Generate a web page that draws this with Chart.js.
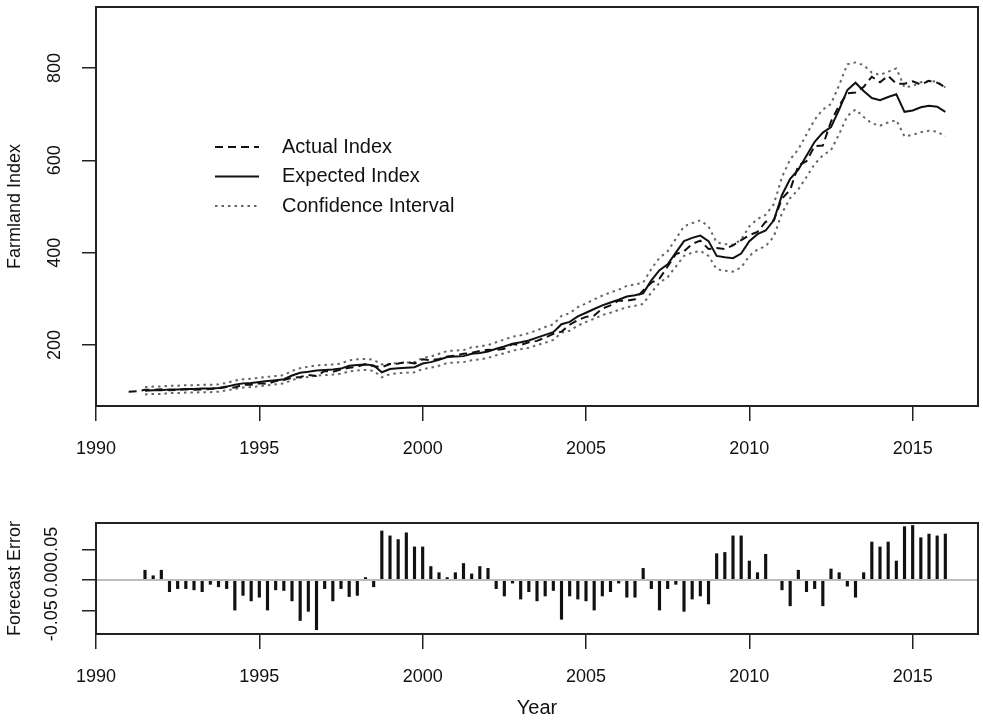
<!DOCTYPE html>
<html>
<head>
<meta charset="utf-8">
<title>Farmland Index</title>
<script src="https://cdn.jsdelivr.net/npm/chart.js@4.4.1/dist/chart.umd.min.js"></script>
<style>
  html, body { margin: 0; padding: 0; background: #fff; }
  #wrap { position: relative; width: 983px; height: 722px; }
  canvas { position: absolute; left: 0; }
  #indexChart { top: 0; }
  #errorChart { top: 470px; }
</style>
</head>
<body>
<div id="wrap">
  <canvas id="indexChart" width="983" height="470"></canvas>
  <canvas id="errorChart" width="983" height="252"></canvas>
</div>
<script>
// quarterly series, first quarter 1991
const startYear = 1991;

const actualIndex = [
    99, 100,
    103, 103, 104, 102, 103, 104, 103, 104, 105, 106,
    109, 108, 114, 114, 117, 116, 122, 124,
    129, 131, 135, 133, 144, 142, 147, 151,
    153, 159, 154, 152, 159, 160, 163, 160,
    169, 167, 170, 175, 177, 181, 183, 187,
    190, 189, 192, 202, 200, 206, 209, 216,
    224, 229, 244, 254, 261, 264, 279, 286,
    296, 296, 299, 318, 335, 344, 370, 397,
    403, 419, 426, 408, 410, 408, 416, 427,
    438, 445, 467, 470, 517, 536, 589, 598,
    631, 632, 684, 719, 745, 747, 759, 781,
    769, 783, 766, 766, 771, 764, 772, 768,
    758,
];

const expectedIndex = [
    null, null,
    101, 102, 102, 104, 104, 105, 105, 106, 106, 107,
    110, 114, 117, 118, 120, 122, 124, 126,
    134, 140, 142, 145, 146, 147, 149, 155,
    157, 158, 156, 141, 148, 150, 151, 152,
    160, 163, 168, 174, 175, 176, 181, 183,
    186, 192, 197, 203, 206, 210, 216, 222,
    228, 245, 250, 262, 270, 278, 286, 292,
    298, 305, 308, 312, 340, 362, 375, 400,
    425, 432, 437, 425, 393, 390, 388, 398,
    425, 440, 448, 470, 525, 560, 580, 610,
    640, 660, 672, 710, 752, 768, 750, 735,
    730, 737, 743, 705, 708, 715, 718, 716,
    705,
];

const upperBound = [
    null, null,
    109, 110, 110, 112, 112, 113, 113, 114, 114, 115,
    118, 123, 126, 127, 129, 131, 133, 135,
    144, 150, 153, 156, 157, 158, 160, 167,
    169, 170, 168, 158, 159, 161, 162, 163,
    172, 175, 181, 187, 188, 189, 195, 197,
    200, 206, 212, 218, 221, 226, 232, 239,
    245, 263, 269, 282, 290, 299, 307, 314,
    320, 328, 331, 335, 365, 389, 403, 430,
    457, 464, 470, 457, 422, 419, 417, 428,
    457, 473, 482, 505, 564, 602, 624, 656,
    688, 710, 722, 763, 808, 812, 806, 790,
    785, 792, 799, 758, 761, 769, 772, 770,
    758,
];

const lowerBound = [
    null, null,
    93, 94, 94, 96, 96, 97, 97, 98, 98, 99,
    102, 105, 108, 109, 111, 113, 115, 117,
    124, 129, 131, 134, 135, 136, 138, 143,
    145, 146, 144, 130, 137, 139, 140, 141,
    148, 151, 155, 161, 162, 163, 167, 169,
    172, 178, 182, 188, 191, 194, 200, 205,
    211, 227, 231, 242, 250, 257, 265, 270,
    276, 282, 285, 289, 314, 335, 347, 370,
    393, 400, 404, 393, 364, 361, 359, 368,
    393, 407, 414, 435, 486, 518, 537, 564,
    592, 611, 622, 657, 696, 710, 694, 680,
    675, 682, 687, 652, 655, 661, 664, 662,
    652,
];

const forecastError = [
    null, null,
    0.016, 0.007, 0.016, -0.019, -0.014, -0.014, -0.016, -0.019, -0.007, -0.011,
    -0.014, -0.049, -0.025, -0.034, -0.028, -0.049, -0.016, -0.017,
    -0.034, -0.066, -0.051, -0.081, -0.014, -0.034, -0.014, -0.027,
    -0.025, 0.004, -0.011, 0.080, 0.072, 0.066, 0.077, 0.054,
    0.054, 0.022, 0.012, 0.004, 0.012, 0.027, 0.010, 0.022,
    0.019, -0.014, -0.026, -0.005, -0.031, -0.019, -0.034, -0.026,
    -0.017, -0.064, -0.026, -0.031, -0.034, -0.049, -0.026, -0.019,
    -0.005, -0.028, -0.028, 0.019, -0.014, -0.049, -0.014, -0.007,
    -0.051, -0.031, -0.026, -0.039, 0.043, 0.045, 0.072, 0.072,
    0.031, 0.012, 0.042, 0.000, -0.016, -0.042, 0.016, -0.019,
    -0.014, -0.042, 0.018, 0.012, -0.010, -0.028, 0.012, 0.062,
    0.054, 0.062, 0.031, 0.087, 0.089, 0.069, 0.075, 0.072,
    0.075,
];

const yearTicks = [1990, 1995, 2000, 2005, 2010, 2015];
const indexTicks = [200, 400, 600, 800];
const errorTicks = [-0.05, 0, 0.05];

const quarters = actualIndex.map((_, i) => startYear + i * 0.25);
const toPoints = (values) => values.map((v, i) => ({ x: quarters[i], y: v }));

const family = "'Liberation Sans', Arial, Helvetica, sans-serif";
Chart.defaults.font.family = family;
Chart.defaults.color = "#111";

const ink = "#222";
const nb = "\u00a0";

// R style box round the plot region
const framePlugin = {
    id: "frame",
    afterDraw(chart) {
        const { ctx, chartArea: a } = chart;
        ctx.save();
        ctx.strokeStyle = ink;
        ctx.lineWidth = 2;
        ctx.strokeRect(a.left, a.top, a.right - a.left, a.bottom - a.top);
        ctx.restore();
    },
};

// legend inside the plot, drawn from the dataset styles
const insetLegend = {
    id: "insetLegend",
    afterDraw(chart) {
        const { ctx } = chart;
        const items = chart.data.datasets.filter((d) => d.inLegend);
        ctx.save();
        ctx.font = "20px " + family;
        ctx.textBaseline = "middle";
        ctx.fillStyle = "#111";
        items.forEach((d, i) => {
            const y = 147 + i * 29.5;
            ctx.beginPath();
            ctx.setLineDash(d.borderDash || []);
            ctx.strokeStyle = d.borderColor;
            ctx.lineWidth = d.borderWidth;
            ctx.moveTo(215, y);
            ctx.lineTo(259, y);
            ctx.stroke();
            ctx.setLineDash([]);
            ctx.fillText(d.label, 282, y);
        });
        ctx.restore();
    },
};

// grey reference line at zero, over the bars as in R's abline
const zeroLine = {
    id: "zeroLine",
    afterDatasetsDraw(chart) {
        const { ctx, chartArea: a, scales } = chart;
        const y = scales.y.getPixelForValue(0);
        ctx.save();
        ctx.strokeStyle = "#bdbdbd";
        ctx.lineWidth = 2;
        ctx.beginPath();
        ctx.moveTo(a.left, y);
        ctx.lineTo(a.right, y);
        ctx.stroke();
        ctx.restore();
    },
};

const yearAxis = (height, labelPad) => ({
    type: "linear",
    min: 1990,
    max: 2017,
    offset: false,
    afterBuildTicks: (s) => {
        s.ticks = yearTicks.map((v) => ({ value: v }));
    },
    afterFit: (s) => {
        s.height = height;
        s.paddingLeft = 0;
        s.paddingRight = 0;
    },
    grid: { offset: false, drawOnChartArea: false, tickLength: 15, color: ink, lineWidth: 1.5 },
    border: { display: false },
    ticks: {
        padding: labelPad,
        autoSkip: false,
        maxRotation: 0,
        font: { size: 18 },
        callback: (v) => String(v),
    },
});

const sideAxis = (min, max, values, labelPad, title, fmt) => ({
    min: min,
    max: max,
    afterBuildTicks: (s) => {
        s.ticks = values.map((v) => ({ value: v }));
    },
    afterFit: (s) => {
        s.width = 96;
        s.paddingTop = 0;
        s.paddingBottom = 0;
    },
    grid: { drawOnChartArea: false, tickLength: 14, color: ink, lineWidth: 1.5 },
    border: { display: false },
    ticks: {
        minRotation: 90,
        maxRotation: 90,
        crossAlign: "center",
        padding: labelPad,
        autoSkip: false,
        font: { size: 18 },
        callback: fmt,
    },
    title: {
        display: true,
        text: title,
        font: { size: 18 },
        padding: { top: 4, bottom: 0 },
    },
});

new Chart(document.getElementById("indexChart"), {
    type: "line",
    data: {
        datasets: [
            {
                label: "Actual Index",
                data: toPoints(actualIndex),
                borderColor: "#111",
                borderWidth: 2,
                borderDash: [8, 5],
                inLegend: true,
            },
            {
                label: "Expected Index",
                data: toPoints(expectedIndex),
                borderColor: "#111",
                borderWidth: 2,
                inLegend: true,
            },
            {
                label: "Confidence Interval",
                data: toPoints(upperBound),
                borderColor: "#666",
                borderWidth: 2,
                borderDash: [2.5, 4],
                inLegend: true,
            },
            {
                label: "Lower bound",
                data: toPoints(lowerBound),
                borderColor: "#666",
                borderWidth: 2,
                borderDash: [2.5, 4],
            },
        ],
    },
    options: {
        responsive: false,
        animation: false,
        layout: { padding: { top: 7, right: 5, left: 0, bottom: 0 } },
        elements: { point: { radius: 0 }, line: { tension: 0 } },
        plugins: { legend: { display: false }, tooltip: { enabled: false } },
        scales: {
            x: yearAxis(64, 17),
            y: sideAxis(68, 932, indexTicks, 12, "Farmland Index", (v) => String(v)),
        },
    },
    plugins: [framePlugin, insetLegend],
});

// R packs the three error labels edge to edge; pad them so they sit the same way
const errorLabel = (v) => {
    const s = v.toFixed(2);
    if (v < 0) return s + nb.repeat(4);
    if (v > 0) return nb.repeat(2) + s;
    return s;
};

new Chart(document.getElementById("errorChart"), {
    type: "bar",
    data: {
        datasets: [
            {
                label: "Forecast Error",
                data: toPoints(forecastError),
                backgroundColor: "#111",
                borderWidth: 0,
                barThickness: 2.5,
            },
        ],
    },
    options: {
        responsive: false,
        animation: false,
        layout: { padding: { top: 53, right: 5, left: 0, bottom: 0 } },
        plugins: { legend: { display: false }, tooltip: { enabled: false } },
        scales: {
            x: Object.assign(yearAxis(88, 17), {
                title: {
                    display: true,
                    text: "Year",
                    font: { size: 20 },
                    padding: { top: 0, bottom: 2 },
                },
            }),
            y: sideAxis(-0.088, 0.093, errorTicks, -1, "Forecast Error", errorLabel),
        },
    },
    plugins: [framePlugin, zeroLine],
});
</script>
</body>
</html>
